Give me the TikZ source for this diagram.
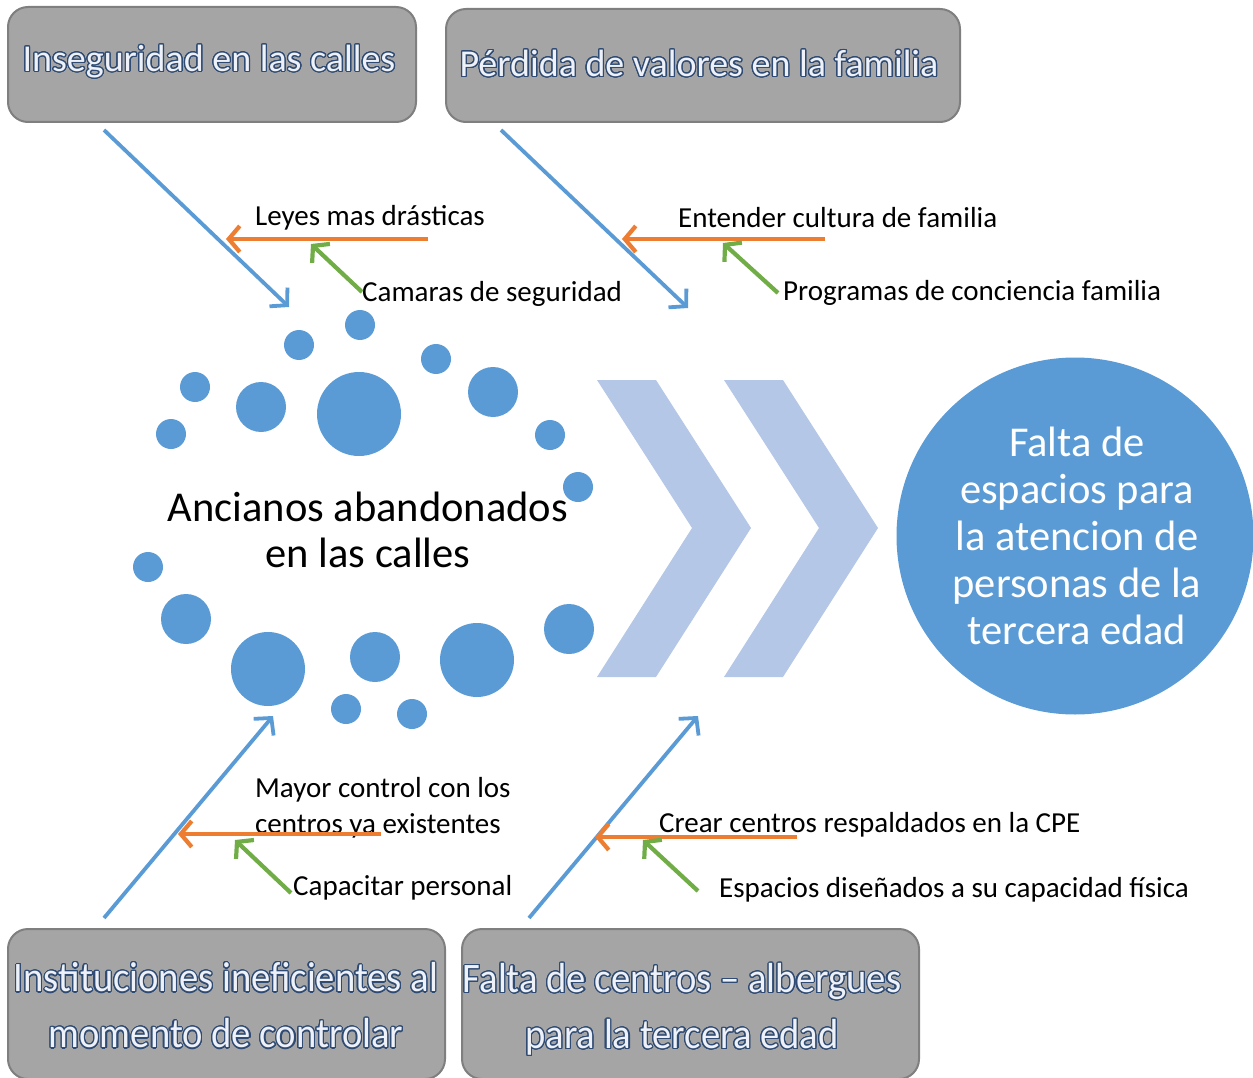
\documentclass[tikz,border=0pt]{standalone}
\usepackage{fontspec}
\setmainfont{Carlito}
\usepackage[copies]{contour}
\contournumber{24}
\contourlength{1.2pt}
\usetikzlibrary{arrows.meta}
\definecolor{mblue}{HTML}{5B9BD5}
\definecolor{morange}{HTML}{ED7D31}
\definecolor{mgreen}{HTML}{70AD47}
\definecolor{chev}{HTML}{B4C7E7}
\definecolor{boxfill}{HTML}{A5A5A5}
\definecolor{boxline}{HTML}{7F7F7F}
\definecolor{outl}{HTML}{2F4B73}
\definecolor{txtfill}{HTML}{EEF2F8}
\newcommand{\otext}[1]{\contour{outl}{\textcolor{txtfill}{#1}}}
\tikzset{
  causebox/.style={draw=boxline, line width=2pt, fill=boxfill, rounded corners=20pt, inner sep=0pt},
  bonearrow/.style={mblue, line width=3.8pt, -{Straight Barb[length=12pt,width=26pt,line width=3.8pt]}},
  subarrow/.style={morange, line width=4.2pt, -{Straight Barb[length=11pt,width=26pt,line width=4.2pt]}},
  subsubarrow/.style={mgreen, line width=4.2pt, -{Straight Barb[length=11pt,width=26pt,line width=4.2pt]}},
  lbl/.style={font=\fontsize{29}{36}\selectfont, anchor=west, inner sep=0pt, align=left},
  dot/.style={fill=mblue, draw=none}
}
\begin{document}
\begin{tikzpicture}[x=1pt,y=-1pt]
\useasboundingbox (0,0) rectangle (1253,1078);

% cause boxes
\node[causebox, minimum width=408pt, minimum height=115pt] (b1) at (212,64.5) {};
\node[font=\fontsize{38}{44}\selectfont] (t1) at (209,62) {\otext{Inseguridad en las calles}};
\node[causebox, minimum width=514pt, minimum height=113pt] (b2) at (703,65.5) {};
\node[font=\fontsize{38}{44}\selectfont] (t2) at (699,64) {\otext{Pérdida de valores en la familia}};
\node[causebox, minimum width=437pt, minimum height=150pt] (b3) at (226.5,1004) {};
\node[font=\fontsize{42}{56}\selectfont, align=center] (t3) at (226,1006) {\scalebox{0.92}[1]{\otext{Instituciones ineficientes al}}\\\scalebox{0.92}[1]{\otext{momento de controlar}}};
\node[causebox, minimum width=457pt, minimum height=150pt] (b4) at (690.5,1004) {};
\node[font=\fontsize{42}{56}\selectfont, align=center] (t4) at (682,1010) {\scalebox{0.92}[1]{\otext{Falta de centros – albergues}}\\\scalebox{0.92}[1]{\otext{para la tercera edad}}};

% dots
\foreach \x/\y/\r [count=\i] in {360/325/15, 299/345/15, 436/359/15, 195/387/15, 261/407/25, 359/414/42, 493/392/25, 171/434/15, 550/435/15, 578/487/15, 148/567/15, 186/619/25, 268/669/37, 375/657/25, 477/660/37, 569/629/25, 346/709/15, 412/714/15}
  \node[dot, circle, minimum size=2*\r pt, inner sep=0pt] (d\i) at (\x,\y) {};

% central problem
\node[font=\fontsize{42.5}{46}\selectfont, align=center] (problem) at (368,530) {Ancianos abandonados\\en las calles};

% chevrons
\fill[chev] (597,380) -- (656,380) -- (751,528) -- (656,677) -- (597,677) -- (692,528) -- cycle;
\fill[chev] (724,380) -- (783,380) -- (878,528) -- (783,677) -- (724,677) -- (819,528) -- cycle;

% effect
\node[circle, fill=mblue, minimum size=357pt, inner sep=0pt] (effect) at (1075,536) {};
\node[text=white, font=\fontsize{42.5}{47}\selectfont, align=center] (effecttext) at (1077,536) {Falta de\\espacios para\\la atencion de\\personas de la\\tercera edad};

% coordinates for bones
\coordinate (a1s) at (104,130); \coordinate (a1e) at (289,307);
\coordinate (a2s) at (501,130); \coordinate (a2e) at (688,308);
\coordinate (a3s) at (104,918); \coordinate (a3e) at (273,716);
\coordinate (a4s) at (529,918); \coordinate (a4e) at (698,716);
\coordinate (o1s) at (428,239); \coordinate (o1e) at (226,239);
\coordinate (o2s) at (825,239); \coordinate (o2e) at (622,239);
\coordinate (o3s) at (381,834); \coordinate (o3e) at (178,834);
\coordinate (o4s) at (797,837); \coordinate (o4e) at (595,837);
\coordinate (g1s) at (362,292); \coordinate (g1e) at (311,244);
\coordinate (g2s) at (778,293); \coordinate (g2e) at (723,243);
\coordinate (g3s) at (291,893); \coordinate (g3e) at (235,840);
\coordinate (g4s) at (698,891); \coordinate (g4e) at (643,840);

\draw[bonearrow] (a1s) -- (a1e);
\draw[bonearrow] (a2s) -- (a2e);
\draw[bonearrow] (a3s) -- (a3e);
\draw[bonearrow] (a4s) -- (a4e);

% labels
\node[lbl] (l1) at (255,218) {Leyes mas drásticas};
\node[lbl] (l2) at (362,294) {Camaras de seguridad};
\node[lbl] (l3) at (678,218) {Entender cultura de familia};
\node[lbl] (l4) at (783,293) {Programas de conciencia familia};
\node[lbl] (l5) at (255,808) {Mayor control con los\\centros ya existentes};
\node[lbl] (l6) at (293,888) {Capacitar personal};
\node[lbl] (l7) at (659,825) {Crear centros respaldados en la CPE};
\node[lbl] (l8) at (719,890) {Espacios diseñados a su capacidad física};

\draw[subarrow] (o1s) -- (o1e);
\draw[subarrow] (o2s) -- (o2e);
\draw[subarrow] (o3s) -- (o3e);
\draw[subarrow] (o4s) -- (o4e);
\draw[subsubarrow] (g1s) -- (g1e);
\draw[subsubarrow] (g2s) -- (g2e);
\draw[subsubarrow] (g3s) -- (g3e);
\draw[subsubarrow] (g4s) -- (g4e);
\end{tikzpicture}
\end{document}
